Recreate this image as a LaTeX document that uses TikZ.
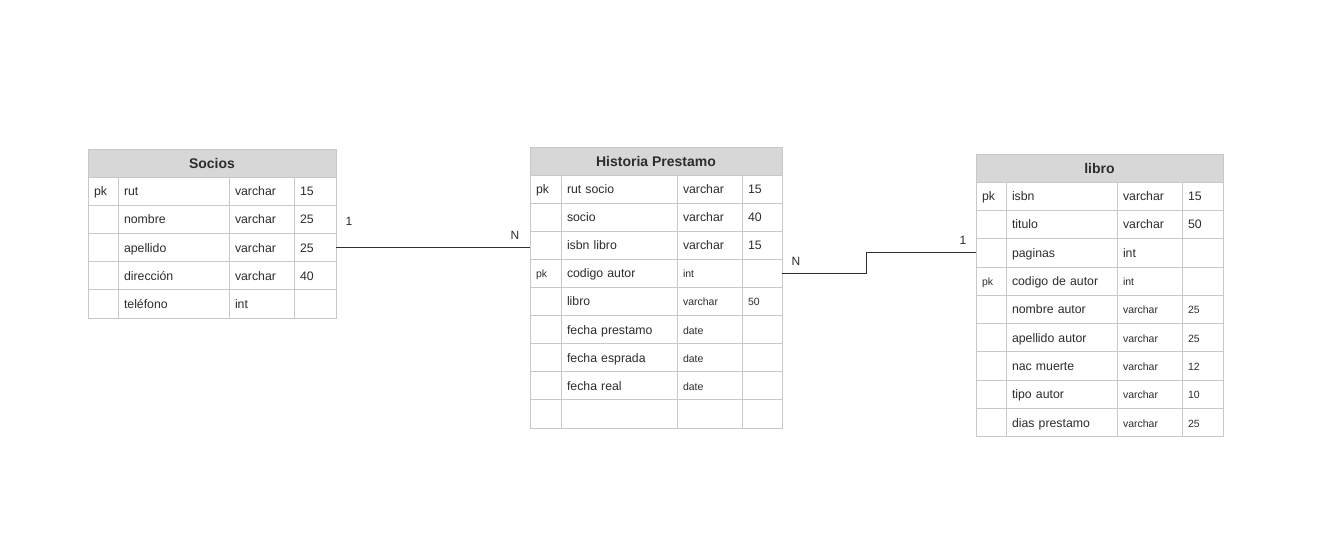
\documentclass[tikz,border=0pt]{standalone}
\usepackage{fontspec}
\setmainfont{Liberation Sans}
\definecolor{bord}{RGB}{200,200,200}
\definecolor{hdr}{RGB}{215,215,215}
\definecolor{txt}{RGB}{45,45,45}
\tikzset{
  cell/.style={draw=bord, line width=0.8pt, outer sep=0pt, inner xsep=6pt, inner ysep=0pt,
    anchor=north west, align=left, text height=10pt, text depth=1pt,
    font=\fontsize{12.3}{14}\selectfont, text=txt},
  sm/.style={font=\fontsize{10.5}{12}\selectfont},
  hdrcell/.style={draw=bord, line width=0.8pt, fill=hdr, outer sep=0pt, inner sep=0pt,
    anchor=north west, align=center, text height=12pt, text depth=1pt,
    font=\bfseries\fontsize{14}{16}\selectfont, text=txt},
  rel/.style={draw=txt, line width=1pt},
  card/.style={font=\fontsize{12}{14}\selectfont, text=txt, inner sep=0pt},
}
% #1 name, #2 top y, #3 pk, #4 field, #5 type, #6 size, #7 pk style, #8 type/size style
\newcommand\tblrow[8]{%
  \node[cell,#7,minimum height=\rh,text width=\ta] (#1a) at (\xa,#2) {#3};
  \node[cell,minimum height=\rh,text width=\tb] (#1b) at (\xb,#2) {#4};
  \node[cell,#8,minimum height=\rh,text width=\tc] (#1c) at (\xc,#2) {#5};
  \node[cell,#8,minimum height=\rh,text width=\td] (#1d) at (\xd,#2) {#6};
}
\begin{document}
\begin{tikzpicture}[x=1pt,y=-1pt]
\useasboundingbox[fill=white] (0,0) rectangle (1342,550);

% ---------- Socios ----------
\def\xa{88}\def\xb{118}\def\xc{229}\def\xd{294}
\def\ta{18pt}\def\tb{99pt}\def\tc{53pt}\def\td{30pt}
\def\rh{28.2pt}
\node[hdrcell, minimum width=248pt, minimum height=28pt] (soh) at (88,149) {Socios};
\tblrow{so1}{177}{pk}{rut}{varchar}{15}{}{}
\tblrow{so2}{205.2}{}{nombre}{varchar}{25}{}{}
\tblrow{so3}{233.4}{}{apellido}{varchar}{25}{}{}
\tblrow{so4}{261.6}{}{dirección}{varchar}{40}{}{}
\tblrow{so5}{289.8}{}{teléfono}{int}{}{}{}

% ---------- Historia Prestamo ----------
\def\xa{530}\def\xb{561}\def\xc{677}\def\xd{742}
\def\ta{19pt}\def\tb{104pt}\def\tc{53pt}\def\td{28pt}
\def\rh{28.1pt}
\node[hdrcell, minimum width=252pt, minimum height=28pt] (hih) at (530,147) {Historia Prestamo};
\tblrow{hi1}{175}{pk}{rut socio}{varchar}{15}{}{}
\tblrow{hi2}{203.1}{}{socio}{varchar}{40}{}{}
\tblrow{hi3}{231.2}{}{isbn libro}{varchar}{15}{}{}
\tblrow{hi4}{259.3}{pk}{codigo autor}{int}{}{sm}{sm}
\tblrow{hi5}{287.4}{}{libro}{varchar}{50}{}{sm}
\tblrow{hi6}{315.5}{}{fecha prestamo}{date}{}{}{sm}
\tblrow{hi7}{343.6}{}{fecha esprada}{date}{}{}{sm}
\tblrow{hi8}{371.7}{}{fecha real}{date}{}{}{sm}
\tblrow{hi9}{399.8}{}{}{}{}{}{}

% ---------- libro ----------
\def\xa{976}\def\xb{1006}\def\xc{1117}\def\xd{1182}
\def\ta{18pt}\def\tb{99pt}\def\tc{53pt}\def\td{29pt}
\def\rh{28.3pt}
\node[hdrcell, minimum width=247pt, minimum height=28pt] (lih) at (976,154) {libro};
\tblrow{li1}{182}{pk}{isbn}{varchar}{15}{}{}
\tblrow{li2}{210.3}{}{titulo}{varchar}{50}{}{}
\tblrow{li3}{238.6}{}{paginas}{int}{}{}{}
\tblrow{li4}{266.9}{pk}{codigo de autor}{int}{}{sm}{sm}
\tblrow{li5}{295.2}{}{nombre autor}{varchar}{25}{}{sm}
\tblrow{li6}{323.5}{}{apellido autor}{varchar}{25}{}{sm}
\tblrow{li7}{351.8}{}{nac muerte}{varchar}{12}{}{sm}
\tblrow{li8}{380.1}{}{tipo autor}{varchar}{10}{}{sm}
\tblrow{li9}{408.4}{}{dias prestamo}{varchar}{25}{}{sm}

% ---------- relations ----------
\draw[rel] (so3d.east) -- (so3d.east -| hi3a.west);
\draw[rel] (hi4d.east) -- ++(84,0) |- (li3a.west);

\node[card] (c1) at (349,221) {1};
\node[card] (c2) at (515,235) {N};
\node[card] (c3) at (796,261) {N};
\node[card] (c4) at (963,240) {1};
\end{tikzpicture}
\end{document}
